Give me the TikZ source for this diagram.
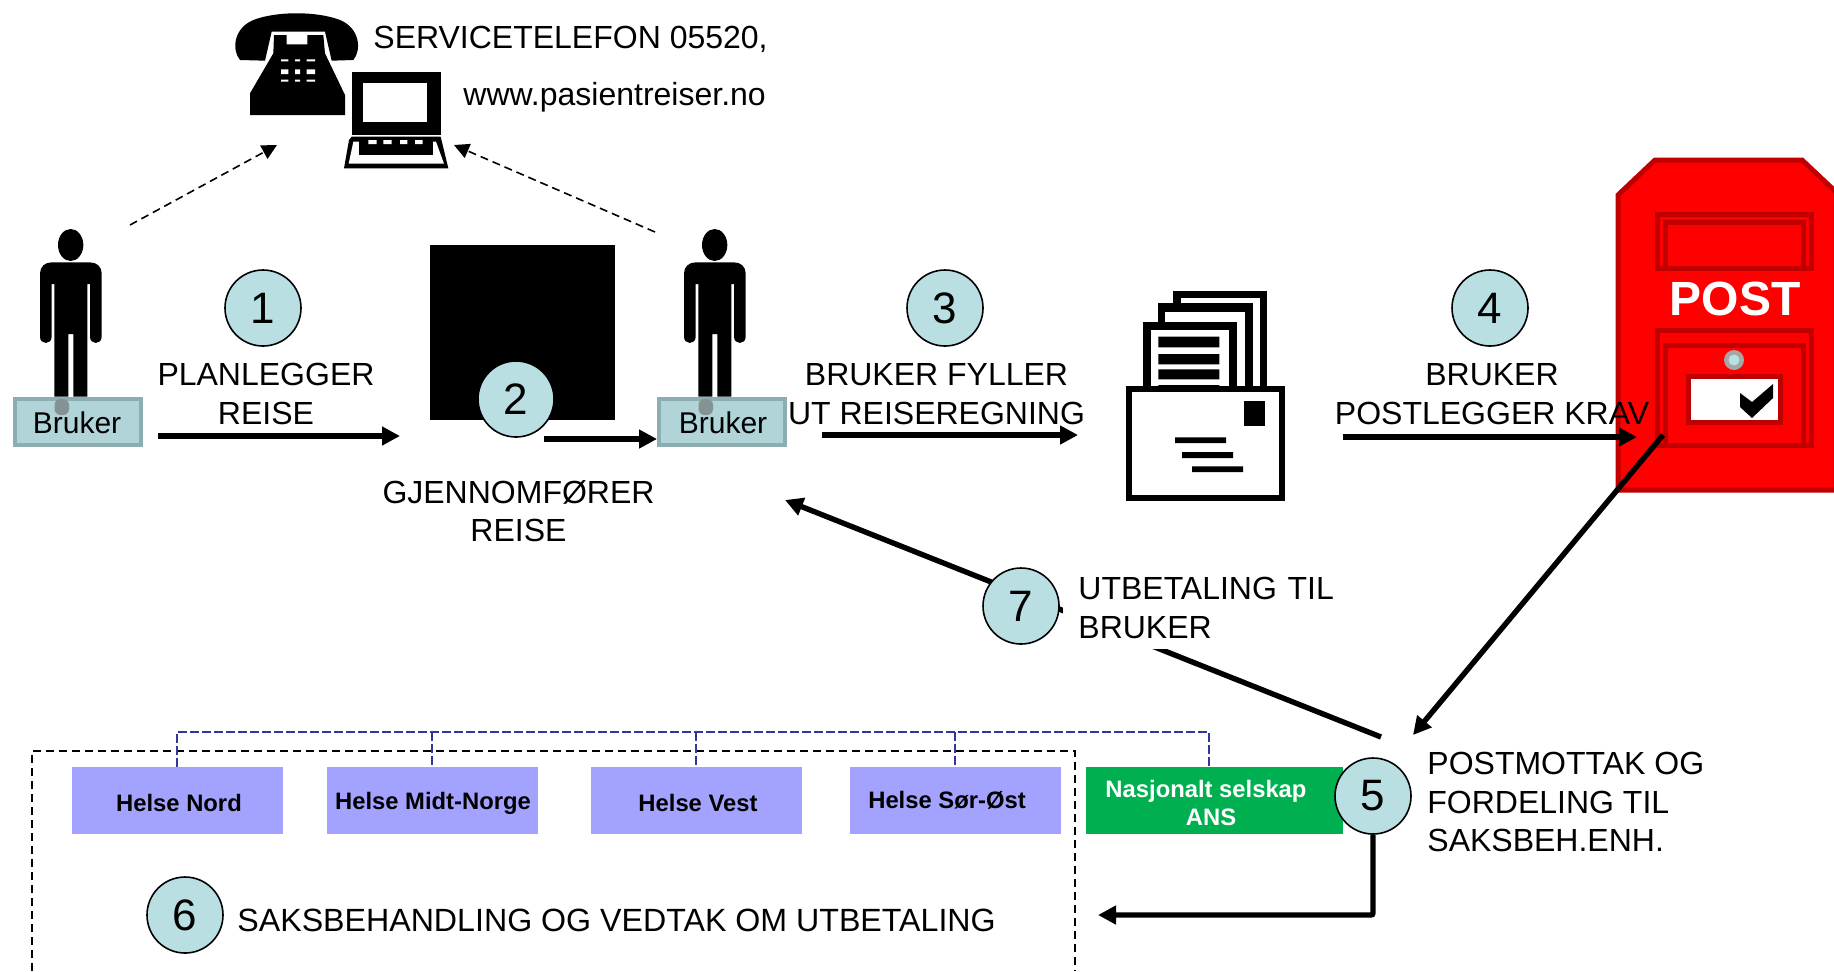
\documentclass[tikz,border=0pt]{standalone}
\usepackage{fontspec}
\setmainfont{Liberation Sans}
\usetikzlibrary{arrows.meta,shapes.geometric}
\definecolor{numfill}{HTML}{B9DFE3}
\definecolor{helse}{HTML}{A3A3FF}
\definecolor{nasj}{HTML}{00B050}
\definecolor{dred}{HTML}{C00000}
\definecolor{bluedash}{HTML}{3535A0}
\definecolor{boxfill}{HTML}{B0D4D7}
\definecolor{boxedge}{HTML}{8DAEB1}
\tikzset{
  numc/.style={circle,draw=black,line width=.8pt,fill=numfill,minimum size=38pt,inner sep=0pt,font=\fontsize{22}{24}\selectfont},
  lab/.style={inner sep=0pt,font=\fontsize{16}{19.3}\selectfont,align=center},
  labl/.style={inner sep=0pt,font=\fontsize{16}{19.3}\selectfont,align=left,anchor=west},
  hbox/.style={fill=helse,inner sep=0pt,minimum width=105.5pt,minimum height=33.5pt},
  htext/.style={inner sep=0pt,font=\fontsize{11.9}{14}\bfseries\selectfont},
  brukerbox/.style={draw=boxedge,line width=2pt,fill=boxfill,minimum width=63pt,minimum height=23pt,inner sep=0pt},
  brukertext/.style={inner sep=0pt,font=\fontsize{15}{17}\selectfont},
  flow/.style={line width=2.7pt,-{Triangle[length=9pt,width=9pt]}},
  thin dash/.style={line width=.8pt,dash pattern=on 4pt off 2.5pt},
  tipdash/.style={thin dash,-{Triangle[length=7.5pt,width=7.5pt]}},
  bluedashline/.style={draw=bluedash,line width=1.4pt,dash pattern=on 4.5pt off 1.5pt},
  postline/.style={draw=dred,line width=2.5pt}
}
\newcommand{\personicon}[1]{%
  \begin{scope}[shift={(#1,210)},scale=1/3]
    \fill (212,105) ellipse [x radius=38,y radius=48];
    \fill (120,190) -- (120,380) .. controls (120,405) and (155,405) .. (155,380) -- (155,222) -- (163,222) -- (163,560) -- (205,560) -- (205,372) -- (220,372) -- (220,560) -- (262,560) -- (262,222) -- (270,222) -- (270,380) .. controls (270,405) and (305,405) .. (305,380) -- (305,190) .. controls (305,170) and (290,157) .. (270,157) -- (155,157) .. controls (135,157) and (120,170) .. (120,190) -- cycle;
  \end{scope}}
\begin{document}
\begin{tikzpicture}[x=.5pt,y=-.5pt]
\useasboundingbox (0,0) rectangle (1834,971);
% post box
\draw[postline,fill=red] (1618,195) -- (1655,160) -- (1802,160) -- (1836,192) -- (1836,490) -- (1618,490) -- cycle;
\draw[postline] (1657,214) rectangle (1811,268);
\draw[postline] (1665,222) rectangle (1803,268);
\draw[postline] (1657,330) rectangle (1811,445);
\draw[postline] (1665,345) rectangle (1803,445);
\draw[postline,fill=white] (1688,376) rectangle (1780,422);
\fill (1740,393) -- (1752,402) -- (1773,384) -- (1773,398) -- (1752,418) -- (1740,407) -- cycle;
\fill[gray!70] (1734,360) circle (10);
\fill[numfill] (1734,360) circle (5.5);
\node[inner sep=0pt,text=white,font=\fontsize{24}{26}\bfseries\selectfont] (posttxt) at (1735,299) {POST};
% phone
\begin{scope}[shift={(200,0)},scale=1/3]
  \fill (120,180) .. controls (95,150) and (100,85) .. (160,60) .. controls (230,33) and (350,33) .. (420,60) .. controls (480,85) and (485,150) .. (460,180) -- (395,182) -- (375,95) -- (215,95) -- (195,182) -- cycle;
  \fill (222,105) -- (260,105) -- (260,133) -- (322,133) -- (322,105) -- (370,105) -- (375,160) -- (435,285) -- (435,345) -- (150,345) -- (150,280) -- (220,160) -- cycle;
  \fill[white] (243,178) rectangle (265,184) (285,178) rectangle (300,184) (320,178) rectangle (345,184);
  \fill[white] (243,208) rectangle (265,222) (285,208) rectangle (300,222) (320,208) rectangle (345,222);
  \fill[white] (243,239) rectangle (265,245) (285,239) rectangle (300,245) (320,239) rectangle (345,245);
  % laptop
  \fill (455,215) rectangle (722,405);
  \fill[white] (488,250) rectangle (682,365);
  \fill (432,505) -- (447,420) -- (455,410) -- (722,410) -- (745,505) -- cycle;
  \fill[white] (446,491) -- (460,425) -- (708,425) -- (732,491) -- cycle;
  \fill (478,420) rectangle (700,465);
  \fill[white] (505,420) rectangle (530,432) (550,420) rectangle (575,432) (600,420) rectangle (622,432) (645,420) rectangle (668,432);
\end{scope}
% letter
\begin{scope}[shift={(1110,270)},scale=1/3]
  \fill (190,62) rectangle (472,355);
  \fill[white] (212,85) rectangle (450,355);
  \fill (145,100) rectangle (428,355);
  \fill[white] (166,125) rectangle (405,355);
  \fill (100,155) rectangle (380,355);
  \fill[white] (122,180) rectangle (358,355);
  \fill (145,200) rectangle (328,232) (145,252) rectangle (328,283) (145,298) rectangle (328,328) (145,345) rectangle (328,355);
  \draw[line width=3pt,fill=white] (58,358) rectangle (515,685);
  \fill (402,393) rectangle (465,467);
  \fill (195,502) rectangle (348,519) (216,546) rectangle (369,564) (246,589) rectangle (399,606);
\end{scope}
% black square
\fill (430,245) rectangle (615,420);
% persons
\personicon{0}
\personicon{644}
% dashed frame
\coordinate (fbl) at (32,971);
\coordinate (ftl) at (32,751);
\coordinate (ftr) at (1075,751);
\coordinate (fbr) at (1075,971);
\draw[thin dash] (fbl) -- (ftl) -- (ftr) -- (fbr);
% boxes
\node[hbox] (nord) at (177.5,800.5) {};
\node[hbox] (midt) at (432.5,800.5) {};
\node[hbox] (vest) at (696.5,800.5) {};
\node[hbox] (soer) at (955.5,800.5) {};
\node[fill=nasj,inner sep=0pt,minimum width=128.5pt,minimum height=33.5pt] (nasj) at (1214.5,800.5) {};
\node[htext] (tnord) at (179,803) {Helse Nord};
\node[htext] (tmidt) at (433,803) {Helse Midt-Norge};
\node[htext] (tvest) at (698,803) {Helse Vest};
\node[htext] (tsoer) at (947,800) {Helse Sør-Øst};
\node[htext,text=white,align=center] (tnasj) at (1206,803) {Nasjonalt selskap\\\hspace*{5pt}ANS};
% blue org lines
\coordinate (bl) at (177,732);
\coordinate (bm) at (432,732);
\coordinate (bv) at (696,732);
\coordinate (bs) at (955,732);
\coordinate (bn) at (1209,732);
\draw[bluedashline] (nord.north -| bl) -- (bl) -- (bn) -- (nasj.north -| bn);
\draw[bluedashline] (bm) -- (midt.north -| bm);
\draw[bluedashline] (bv) -- (vest.north -| bv);
\draw[bluedashline] (bs) -- (soer.north -| bs);
% bruker boxes
\node[brukerbox] (b1) at (78,422) {};
\node[brukerbox] (b2) at (722,422) {};
\fill[gray!60!boxedge,rounded corners=3pt] (54.5,399) rectangle (69,415);
\fill[gray!60!boxedge,rounded corners=3pt] (698.5,399) rectangle (713,415);
\node[brukertext] (t1) at (77,423) {Bruker};
\node[brukertext] (t2) at (723,423) {Bruker};
% free ends
\coordinate (d1s) at (130,225); \coordinate (d1e) at (277,145);
\coordinate (d2s) at (655,232); \coordinate (d2e) at (454,145);
\coordinate (a1s) at (158,436); \coordinate (a1e) at (400,436);
\coordinate (a2s) at (544,439);
\coordinate (a3s) at (822,435); \coordinate (a3e) at (1078,435);
\coordinate (a4s) at (1343,437); \coordinate (a4e) at (1637,437);
\coordinate (a5s) at (1663,435); \coordinate (a5e) at (1413,735);
\coordinate (a7s) at (1381,737); \coordinate (a7e) at (785,500);
\coordinate (a6e) at (1098,915);
% connectors
\draw[tipdash] (d1s) -- (d1e);
\draw[tipdash] (d2s) -- (d2e);
\draw[flow] (a7s) -- (a7e);
% labels
\node[labl] (lservice) at (373,39) {SERVICETELEFON 05520,};
\node[labl] (lweb) at (463,97) {www.pasientreiser.no};
\node[lab] (lplan) at (266,394) {PLANLEGGER\\REISE};
\node[lab] (lgjen) at (518.5,511) {GJENNOMFØRER\\REISE};
\node[lab] (lfyll) at (936.5,394) {BRUKER FYLLER\\UT REISEREGNING};
\node[lab] (lpost) at (1492,394) {BRUKER\\POSTLEGGER KRAV};
\node[labl,fill=white,inner xsep=7.5pt,inner ysep=5pt,text width=136pt] (lutb) at (1063,608) {UTBETALING TIL\\BRUKER};
\node[labl] (lfor) at (1427,802) {POSTMOTTAK OG\\FORDELING TIL\\SAKSBEH.ENH.};
\node[labl,font=\fontsize{16.08}{19.3}\selectfont] (lsak) at (237,920) {SAKSBEHANDLING OG VEDTAK OM UTBETALING};
% circles
\node[numc] (c1) at (263,308) {1};
\node[numc] (c2) at (516,399) {2};
\node[numc] (c3) at (945,308) {3};
\node[numc] (c4) at (1490,308) {4};
\node[numc] (c5) at (1373,796) {5};
\node[numc] (c6) at (185,915) {6};
\node[numc] (c7) at (1021,606) {7};
% arrows
\draw[flow] (a1s) -- (a1e);
\draw[flow] (a2s) -- (b2.west |- a2s);
\draw[flow] (a3s) -- (a3e);
\draw[flow] (a4s) -- (a4e);
\draw[flow] (a5s) -- (a5e);
\draw[flow,rounded corners=1pt] (c5.south) |- (a6e);
\end{tikzpicture}
\end{document}
